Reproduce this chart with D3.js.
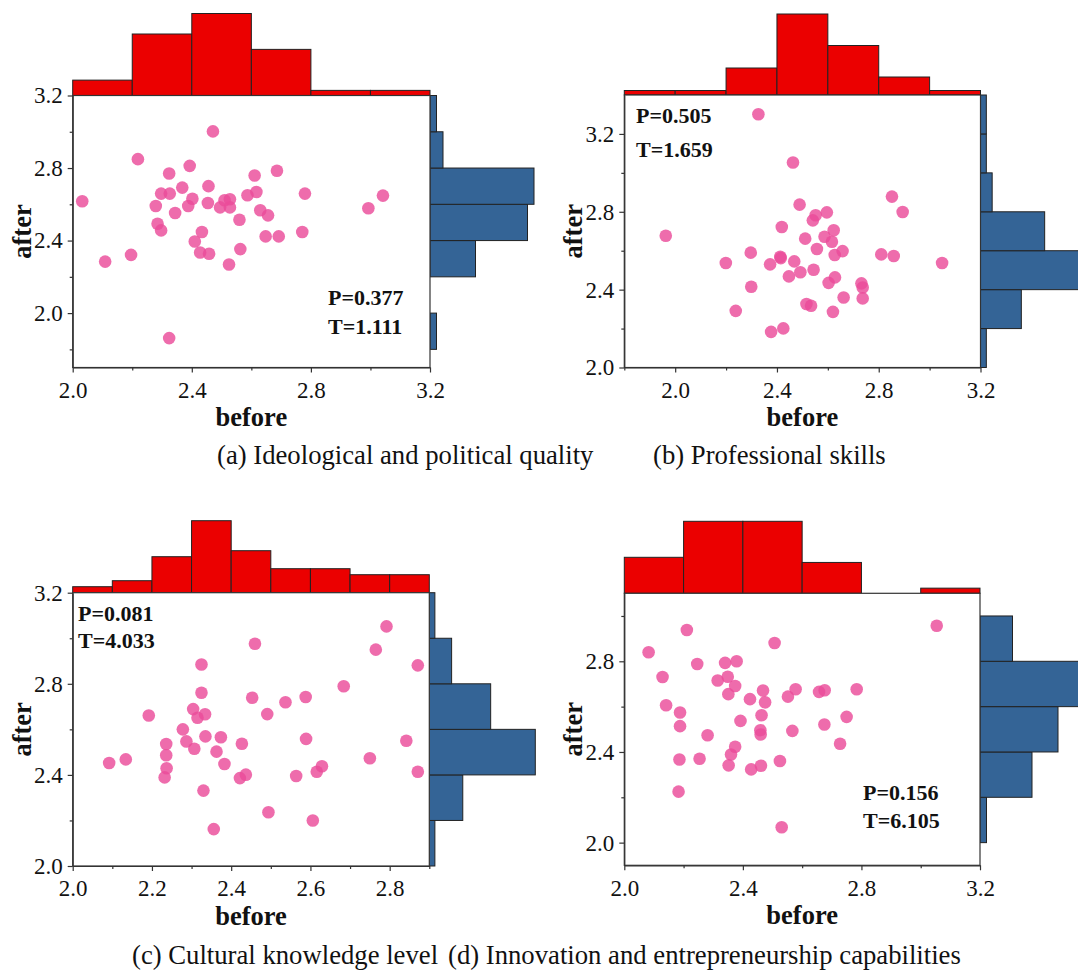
<!DOCTYPE html>
<html>
<head>
<meta charset="utf-8">
<script src="https://cdn.jsdelivr.net/npm/d3@7"></script>
<style>
  body { margin: 0; background: #fff; }
  svg { display: block; font-family: "Liberation Serif", "Times New Roman", serif; }
</style>
</head>
<body>
<svg id="chart" width="1078" height="971"></svg>
<script>
// ---- values ----

// (a) Ideological and political quality
const beforeA = [2.032, 2.109, 2.196, 2.219, 2.279, 2.285, 2.297, 2.297, 2.324, 2.326, 2.324, 2.344, 2.368, 2.388,
    2.402, 2.393, 2.410, 2.428, 2.434, 2.458, 2.456, 2.454, 2.471, 2.495, 2.510, 2.528, 2.528, 2.525,
    2.560, 2.563, 2.587, 2.611, 2.617, 2.630, 2.648, 2.656, 2.686, 2.692, 2.771, 2.780, 2.993, 3.042]
const afterA = [2.617, 2.284, 2.321, 2.849, 2.591, 2.493, 2.456, 2.659, 2.770, 2.659, 1.862, 2.552, 2.692, 2.591,
    2.631, 2.812, 2.395, 2.334, 2.447, 2.327, 2.700, 2.607, 3.002, 2.583, 2.622, 2.628, 2.583, 2.268,
    2.515, 2.353, 2.650, 2.759, 2.668, 2.567, 2.423, 2.539, 2.785, 2.423, 2.447, 2.659, 2.578, 2.648]
const topCountsA = [3, 12, 16, 9, 1, 1]          // before, bins of 0.2 from 2.0
const rightCountsA = [1, 0, 7, 15, 16, 2, 1]     // after, bins of 0.2 from 1.8

// (b) Professional skills
const beforeB = [1.963, 2.199, 2.238, 2.297, 2.299, 2.327, 2.373, 2.377, 2.413, 2.415, 2.419, 2.425, 2.447, 2.463,
    2.468, 2.489, 2.492, 2.511, 2.516, 2.534, 2.544, 2.541, 2.552, 2.557, 2.587, 2.596, 2.603, 2.616,
    2.623, 2.627, 2.628, 2.620, 2.658, 2.662, 2.732, 2.737, 2.737, 2.810, 2.852, 2.859, 2.894, 3.049]
const afterB = [2.677, 2.537, 2.291, 2.590, 2.415, 3.301, 2.530, 2.183, 2.569, 2.562, 2.722, 2.201, 2.468, 3.053,
    2.545, 2.837, 2.489, 2.662, 2.326, 2.317, 2.502, 2.756, 2.782, 2.609, 2.672, 2.797, 2.435, 2.646,
    2.705, 2.578, 2.463, 2.286, 2.598, 2.360, 2.432, 2.411, 2.355, 2.581, 2.878, 2.573, 2.799, 2.537]
const topCountsB = [1, 1, 6, 18, 11, 4, 1]       // bins of 0.2 from 1.8
const rightCountsB = [1, 7, 18, 11, 2, 1, 1]     // bins of 0.2 from 2.0

// (c) Cultural knowledge level
const beforeC = [2.092, 2.134, 2.192, 2.236, 2.236, 2.237, 2.232, 2.278, 2.287, 2.304, 2.307, 2.315, 2.325, 2.325,
    2.334, 2.335, 2.330, 2.356, 2.363, 2.374, 2.383, 2.422, 2.437, 2.427, 2.453, 2.460, 2.491, 2.494,
    2.537, 2.564, 2.588, 2.589, 2.606, 2.616, 2.629, 2.684, 2.750, 2.765, 2.792, 2.842, 2.871, 2.871]
const afterC = [2.452, 2.468, 2.661, 2.536, 2.486, 2.429, 2.389, 2.600, 2.547, 2.689, 2.515, 2.651, 2.761, 2.885,
    2.666, 2.569, 2.331, 2.162, 2.502, 2.565, 2.448, 2.386, 2.401, 2.537, 2.739, 2.976, 2.667, 2.236,
    2.719, 2.395, 2.742, 2.558, 2.200, 2.414, 2.438, 2.789, 2.473, 2.950, 3.052, 2.550, 2.881, 2.414]
const topCountsC = [1, 2, 6, 12, 7, 4, 4, 3, 3]  // bins of 0.1 from 2.0
const rightCountsC = [1, 6, 19, 11, 4, 1]        // bins of 0.2 from 2.0

// (d) Innovation and entrepreneurship capabilities
const beforeD = [2.082, 2.129, 2.141, 2.188, 2.188, 2.186, 2.183, 2.211, 2.246, 2.254, 2.281, 2.315, 2.340, 2.349,
    2.351, 2.379, 2.374, 2.360, 2.352, 2.374, 2.392, 2.424, 2.428, 2.459, 2.460, 2.463, 2.468, 2.475,
    2.461, 2.507, 2.525, 2.531, 2.552, 2.567, 2.578, 2.657, 2.676, 2.675, 2.728, 2.750, 2.784, 3.054]
const afterD = [2.840, 2.731, 2.606, 2.574, 2.514, 2.367, 2.225, 2.938, 2.788, 2.370, 2.474, 2.715, 2.793, 2.732,
    2.655, 2.800, 2.691, 2.389, 2.341, 2.423, 2.537, 2.633, 2.323, 2.496, 2.477, 2.562, 2.671, 2.619,
    2.339, 2.881, 2.360, 2.068, 2.644, 2.493, 2.677, 2.665, 2.672, 2.521, 2.436, 2.555, 2.677, 2.957]
const topCountsD = [7, 14, 14, 6, 0, 1]          // bins of 0.2 from 2.0
const rightCountsD = [1, 8, 12, 16, 5]           // bins of 0.2 from 2.0

const statsA = ["P=0.377", "T=1.111"]
const statsB = ["P=0.505", "T=1.659"]
const statsC = ["P=0.081", "T=4.033"]
const statsD = ["P=0.156", "T=6.105"]

const captions = [
    "(a) Ideological and political quality",
    "(b) Professional skills",
    "(c) Cultural knowledge level",
    "(d) Innovation and entrepreneurship capabilities"
]

// axis ticks
const xMajorA = [2.0, 2.4, 2.8, 3.2], xMinorA = [2.2, 2.6, 3.0]
const yMajorA = [2.0, 2.4, 2.8, 3.2], yMinorA = [1.8, 2.2, 2.6, 3.0]
const xMajorB = [2.0, 2.4, 2.8, 3.2], xMinorB = [1.8, 2.2, 2.6, 3.0]
const yMajorB = [2.0, 2.4, 2.8, 3.2], yMinorB = [2.2, 2.6, 3.0]
const xMajorC = [2.0, 2.2, 2.4, 2.6, 2.8], xMinorC = [2.1, 2.3, 2.5, 2.7, 2.9]
const yMajorC = [2.0, 2.4, 2.8, 3.2], yMinorC = [2.2, 2.6, 3.0]
const xMajorD = [2.0, 2.4, 2.8, 3.2], xMinorD = [2.2, 2.6, 3.0]
const yMajorD = [2.0, 2.4, 2.8], yMinorD = [2.2, 2.6, 3.0]

// ---- layout ----
const panels = [
    { before: beforeA, after: afterA, top: topCountsA, topStart: 2.0, topStep: 0.2,
      right: rightCountsA, rightStart: 1.8, rightStep: 0.2,
      xDomain: [2.0, 3.2], yDomain: [1.7, 3.2], box: [72.7, 95.5, 430, 367.5],
      xMajor: xMajorA, xMinor: xMinorA, yMajor: yMajorA, yMinor: yMinorA,
      topLen: 82, rightLen: 104, stats: statsA, statsAt: [328, 305, 29] },
    { before: beforeB, after: afterB, top: topCountsB, topStart: 1.8, topStep: 0.2,
      right: rightCountsB, rightStart: 2.0, rightStep: 0.2,
      xDomain: [1.8, 3.2], yDomain: [2.0, 3.4], box: [624.3, 95, 980.5, 367.5],
      xMajor: xMajorB, xMinor: xMinorB, yMajor: yMajorB, yMinor: yMinorB,
      topLen: 81, rightLen: 105, stats: statsB, statsAt: [636, 123, 34] },
    { before: beforeC, after: afterC, top: topCountsC, topStart: 2.0, topStep: 0.1,
      right: rightCountsC, rightStart: 2.0, rightStep: 0.2,
      xDomain: [2.0, 2.9], yDomain: [2.0, 3.2], box: [72.7, 592.7, 429.3, 866],
      xMajor: xMajorC, xMinor: xMinorC, yMajor: yMajorC, yMinor: yMinorC,
      topLen: 72, rightLen: 106, stats: statsC, statsAt: [78, 620.5, 27.5] },
    { before: beforeD, after: afterD, top: topCountsD, topStart: 2.0, topStep: 0.2,
      right: rightCountsD, rightStart: 2.0, rightStep: 0.2,
      xDomain: [2.0, 3.2], yDomain: [1.9, 3.1], box: [624.3, 593.3, 980, 865.3],
      xMajor: xMajorD, xMinor: xMinorD, yMajor: yMajorD, yMinor: yMinorD,
      topLen: 72, rightLen: 104, stats: statsD, statsAt: [863, 799.5, 28] }
]

const captionAt = [[217, 464], [653, 464], [132, 964], [448, 964]]

const redFill = "#EB0000"
const blueFill = "#346496"
const barStroke = "#222"
const dotFill = "#EA4C9A"
const axisColor = "#333"
const serif = "'Liberation Serif', 'Times New Roman', serif"
const fmt = d3.format(".1f")

const svg = d3.select("#chart")

function styleAxis(sel) {
    sel.attr("font-family", serif).attr("font-size", 23)
    sel.select(".domain").attr("stroke", axisColor).attr("stroke-width", 1.2)
    sel.selectAll(".tick line").attr("stroke", axisColor).attr("stroke-width", 1.2)
    sel.selectAll(".tick text")
        .attr("font-family", serif)
        .attr("font-size", 23)
        .attr("fill", "#111")
}

panels.forEach(p => {
    const [left, top, right, bottom] = p.box
    const x = d3.scaleLinear().domain(p.xDomain).range([left, right])
    const y = d3.scaleLinear().domain(p.yDomain).range([bottom, top])
    const g = svg.append("g")

    // marginal histogram on top (before)
    const hTop = d3.scaleLinear().domain([0, d3.max(p.top)]).range([0, p.topLen])
    const topBins = p.top.map((c, i) => ({
        x0: p.topStart + i * p.topStep, x1: p.topStart + (i + 1) * p.topStep, c: c
    })).filter(d => d.c > 0)
    g.selectAll("rect.top")
        .data(topBins)
        .enter()
        .append("rect")
        .attr("class", "top")
        .attr("x", d => x(d.x0))
        .attr("width", d => x(d.x1) - x(d.x0))
        .attr("y", d => top - hTop(d.c))
        .attr("height", d => hTop(d.c))
        .attr("fill", redFill)
        .attr("stroke", barStroke)
        .attr("stroke-width", 1)

    // marginal histogram on the right (after)
    const wRight = d3.scaleLinear().domain([0, d3.max(p.right)]).range([0, p.rightLen])
    const rightBins = p.right.map((c, i) => ({
        y0: p.rightStart + i * p.rightStep, y1: p.rightStart + (i + 1) * p.rightStep, c: c
    })).filter(d => d.c > 0)
    g.selectAll("rect.right")
        .data(rightBins)
        .enter()
        .append("rect")
        .attr("class", "right")
        .attr("x", right)
        .attr("width", d => wRight(d.c))
        .attr("y", d => y(d.y1))
        .attr("height", d => y(d.y0) - y(d.y1))
        .attr("fill", blueFill)
        .attr("stroke", barStroke)
        .attr("stroke-width", 1)

    // plot background and scatter
    g.append("rect")
        .attr("x", left).attr("y", top)
        .attr("width", right - left).attr("height", bottom - top)
        .attr("fill", "#fff")

    g.selectAll("circle")
        .data(p.before.map((b, i) => [b, p.after[i]]))
        .enter()
        .append("circle")
        .attr("cx", d => x(d[0]))
        .attr("cy", d => y(d[1]))
        .attr("r", 6.3)
        .attr("fill", dotFill)
        .attr("fill-opacity", 0.82)

    // frame
    g.append("rect")
        .attr("x", left).attr("y", top)
        .attr("width", right - left).attr("height", bottom - top)
        .attr("fill", "none")
        .attr("stroke", axisColor)
        .attr("stroke-width", 1.2)

    // axes
    g.append("g")
        .attr("transform", `translate(0,${bottom})`)
        .call(d3.axisBottom(x).tickValues(p.xMajor).tickSize(5).tickSizeOuter(0).tickPadding(9).tickFormat(fmt))
        .call(styleAxis)
    g.append("g")
        .attr("transform", `translate(0,${bottom})`)
        .call(d3.axisBottom(x).tickValues(p.xMinor).tickSize(3).tickFormat(""))
        .call(sel => sel.select(".domain").remove())
        .call(styleAxis)
    g.append("g")
        .attr("transform", `translate(${left},0)`)
        .call(d3.axisLeft(y).tickValues(p.yMajor).tickSize(5).tickSizeOuter(0).tickPadding(5).tickFormat(fmt))
        .call(styleAxis)
    g.append("g")
        .attr("transform", `translate(${left},0)`)
        .call(d3.axisLeft(y).tickValues(p.yMinor).tickSize(3).tickFormat(""))
        .call(sel => sel.select(".domain").remove())
        .call(styleAxis)

    // axis titles
    g.append("text")
        .attr("x", (left + right) / 2)
        .attr("y", bottom + 58.5)
        .attr("text-anchor", "middle")
        .attr("font-size", 26.5)
        .attr("font-weight", "bold")
        .attr("fill", "#111")
        .text("before")
    g.append("text")
        .attr("transform", `translate(${left - 42},${(top + bottom) / 2}) rotate(-90)`)
        .attr("text-anchor", "middle")
        .attr("font-size", 26.5)
        .attr("font-weight", "bold")
        .attr("fill", "#111")
        .text("after")

    // P / T annotations
    const [sx, sy, gap] = p.statsAt
    g.selectAll("text.stat")
        .data(p.stats)
        .enter()
        .append("text")
        .attr("class", "stat")
        .attr("x", sx)
        .attr("y", (d, i) => sy + i * gap)
        .attr("font-size", 22)
        .attr("font-weight", "bold")
        .attr("fill", "#111")
        .text(d => d)
})

svg.selectAll("text.caption")
    .data(captions)
    .enter()
    .append("text")
    .attr("class", "caption")
    .attr("x", (d, i) => captionAt[i][0])
    .attr("y", (d, i) => captionAt[i][1])
    .attr("font-size", 26.7)
    .attr("fill", "#111")
    .text(d => d)
</script>
</body>
</html>
